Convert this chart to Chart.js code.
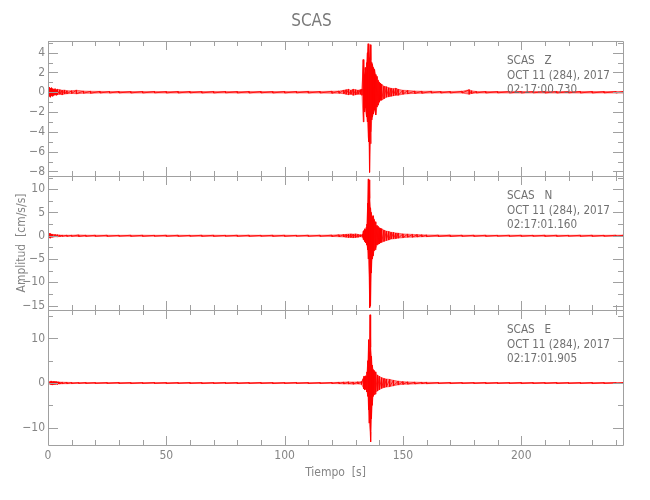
<!DOCTYPE html>
<html>
<head>
<meta charset="utf-8">
<script src="https://cdn.jsdelivr.net/npm/chart.js@4"></script>
<style>
  body { margin: 0; background: #fff; }
</style>
</head>
<body>
<canvas id="sismo" width="650" height="500"></canvas>
<script>
// envelope of each trace (max / min per time step)
const zTime = [
  0, 0.5, 1, 1.5, 2, 2.5, 3, 3.5, 4, 5, 6, 7, 8, 10, 12, 15, 18,
  22, 26, 30, 35, 40, 45, 50, 55, 60, 65, 70, 75, 80, 85, 90, 95, 100, 105, 110, 115, 120,
  123, 125, 126, 127, 128, 129, 130, 131, 132, 132.7,
  133.2, 133.5, 133.8, 134.1, 134.4, 134.7, 135, 135.3, 135.6, 135.9, 136.2, 136.5, 136.8, 137.1, 137.5, 138, 138.5, 139, 139.5, 140, 140.5, 141,
  142, 143, 144, 145, 146, 147, 148, 150, 152, 155, 158, 162, 166, 170, 175, 178, 179,
  181, 185, 190, 195, 200, 205, 210, 215, 220, 225, 230, 235, 240, 243
];
const zHigh = [
  0.3, 0.5, 0.4, 0.45, 0.35, 0.3, 0.35, 0.25, 0.3, 0.25, 0.2, 0.22, 0.15, 0.15, 0.2, 0.12, 0.1,
  0.09, 0.08, 0.08, 0.07, 0.08, 0.08, 0.07, 0.08, 0.08, 0.07, 0.08, 0.08, 0.07, 0.08, 0.08, 0.07, 0.08, 0.08, 0.09, 0.08, 0.1,
  0.12, 0.2, 0.25, 0.3, 0.2, 0.3, 0.25, 0.2, 0.25, 0.3,
  3.3, 2.2, 1.8, 2.5, 2.0, 3.0, 4.0, 4.9, 4.8, 3.5, 4.8, 3.2, 3.0, 2.8, 2.5, 2.3, 1.8, 1.6, 1.2, 1.0, 0.9, 0.8,
  0.6, 0.55, 0.45, 0.4, 0.35, 0.4, 0.3, 0.2, 0.18, 0.12, 0.1, 0.1, 0.08, 0.08, 0.1, 0.25, 0.15,
  0.08, 0.08, 0.07, 0.08, 0.08, 0.07, 0.08, 0.08, 0.07, 0.08, 0.08, 0.07, 0.08, 0.08
];
const zLow = [
  -0.3, -0.4, -0.5, -0.35, -0.4, -0.3, -0.25, -0.3, -0.25, -0.2, -0.25, -0.18, -0.15, -0.12, -0.15, -0.1, -0.1,
  -0.08, -0.08, -0.07, -0.08, -0.08, -0.07, -0.08, -0.08, -0.07, -0.08, -0.08, -0.07, -0.08, -0.08, -0.07, -0.08, -0.08, -0.07, -0.08, -0.08, -0.1,
  -0.1, -0.15, -0.2, -0.25, -0.2, -0.3, -0.25, -0.2, -0.2, -0.3,
  -3.0, -1.8, -2.0, -1.6, -2.2, -2.5, -3.0, -4.5, -5.0, -8.1, -5.2, -4.0, -2.8, -2.5, -2.2, -1.8, -2.3, -1.5, -1.3, -1.0, -0.8, -0.8,
  -0.65, -0.5, -0.45, -0.4, -0.35, -0.3, -0.3, -0.2, -0.15, -0.12, -0.1, -0.08, -0.08, -0.08, -0.08, -0.2, -0.12,
  -0.08, -0.08, -0.07, -0.08, -0.08, -0.07, -0.08, -0.08, -0.07, -0.08, -0.08, -0.07, -0.08, -0.08
];

const nTime = [
  0, 0.5, 1, 1.5, 2, 3, 4, 5, 6, 8, 10, 13, 16, 20,
  25, 30, 35, 40, 45, 50, 55, 60, 65, 70, 75, 80, 85, 90, 95, 100, 105, 110, 115, 120,
  123, 125, 126, 127, 128, 129, 130, 131, 132, 133,
  133.3, 133.6, 133.9, 134.2, 134.5, 134.8, 135.1, 135.4, 135.7, 136, 136.3, 136.6, 137, 137.4, 137.8, 138.2, 138.6, 139, 139.5, 140, 140.5, 141,
  142, 143, 144, 145, 146, 147, 148, 150, 152, 154, 156, 158, 160, 165, 170, 175,
  180, 185, 190, 195, 200, 205, 210, 215, 220, 225, 230, 235, 240, 243
];
const nHigh = [
  0.2, 0.5, 0.45, 0.35, 0.3, 0.25, 0.2, 0.15, 0.12, 0.12, 0.12, 0.18, 0.12, 0.12,
  0.12, 0.1, 0.12, 0.12, 0.1, 0.12, 0.12, 0.1, 0.12, 0.12, 0.1, 0.12, 0.12, 0.1, 0.12, 0.12, 0.1, 0.12, 0.12, 0.15,
  0.2, 0.25, 0.3, 0.35, 0.4, 0.35, 0.4, 0.3, 0.2, 0.3,
  1.0, 1.2, 1.5, 1.3, 1.8, 2.5, 7.0, 12.2, 12.0, 8.0, 6.0, 5.0, 4.0, 4.3, 3.5, 3.0, 2.5, 2.2, 2.0, 1.7, 1.6, 1.5,
  1.2, 1.0, 0.9, 0.75, 0.7, 0.6, 0.55, 0.4, 0.35, 0.3, 0.25, 0.2, 0.18, 0.15, 0.15, 0.12,
  0.12, 0.12, 0.1, 0.12, 0.12, 0.1, 0.12, 0.12, 0.1, 0.12, 0.12, 0.1, 0.12, 0.12
];
const nLow = [
  -0.2, -0.4, -0.5, -0.3, -0.3, -0.2, -0.2, -0.15, -0.12, -0.12, -0.12, -0.15, -0.12, -0.12,
  -0.12, -0.1, -0.12, -0.12, -0.1, -0.12, -0.12, -0.1, -0.12, -0.12, -0.1, -0.12, -0.12, -0.1, -0.12, -0.12, -0.1, -0.12, -0.12, -0.15,
  -0.2, -0.25, -0.3, -0.35, -0.35, -0.4, -0.35, -0.3, -0.2, -0.3,
  -0.8, -1.0, -1.2, -1.5, -1.4, -2.0, -3.0, -5.0, -9.0, -15.4, -15.0, -8.0, -5.0, -4.3, -3.2, -3.0, -2.6, -2.0, -1.8, -1.7, -1.5, -1.4,
  -1.2, -1.0, -0.9, -0.7, -0.65, -0.6, -0.5, -0.4, -0.3, -0.3, -0.25, -0.2, -0.18, -0.15, -0.15, -0.12,
  -0.12, -0.12, -0.1, -0.12, -0.12, -0.1, -0.12, -0.12, -0.1, -0.12, -0.12, -0.1, -0.12, -0.12
];

const eTime = [
  0, 1, 1.5, 2, 2.5, 3, 3.5, 4, 4.5, 5, 6, 8, 10, 13, 16, 20,
  25, 30, 35, 40, 45, 50, 55, 60, 65, 70, 75, 80, 85, 90, 95, 100, 105, 110, 115, 120,
  123, 125, 127, 129, 131, 132.5,
  133.2, 133.5, 133.8, 134.1, 134.5, 134.8, 135.2, 135.5, 135.8, 136.1, 136.4, 136.7, 137, 137.4, 137.8, 138.2, 138.6, 139.2, 140, 141,
  142, 143, 144.4, 146, 148, 150, 152, 155, 158, 160, 165, 170, 175,
  180, 185, 190, 195, 200, 205, 210, 215, 220, 225, 230, 235, 240, 243
];
const eHigh = [
  0.1, 0.35, 0.4, 0.3, 0.35, 0.3, 0.3, 0.25, 0.25, 0.2, 0.18, 0.15, 0.12, 0.1, 0.12, 0.1,
  0.1, 0.12, 0.1, 0.1, 0.12, 0.1, 0.1, 0.12, 0.1, 0.1, 0.12, 0.1, 0.1, 0.12, 0.1, 0.1, 0.12, 0.1, 0.1, 0.12,
  0.15, 0.2, 0.25, 0.2, 0.25, 0.3,
  1.0, 1.5, 1.4, 1.6, 1.5, 2.5, 5.0, 9.7, 7.0, 15.3, 8.0, 6.0, 4.0, 3.0, 2.8, 2.5, 2.0, 1.8, 1.5, 1.2,
  1.0, 0.9, 0.8, 0.6, 0.4, 0.3, 0.25, 0.2, 0.15, 0.15, 0.12, 0.12, 0.1,
  0.1, 0.12, 0.1, 0.1, 0.12, 0.1, 0.1, 0.12, 0.1, 0.1, 0.12, 0.1, 0.1, 0.1
];
const eLow = [
  -0.1, -0.3, -0.35, -0.4, -0.3, -0.3, -0.25, -0.3, -0.2, -0.2, -0.15, -0.15, -0.12, -0.1, -0.1, -0.1,
  -0.1, -0.1, -0.12, -0.1, -0.1, -0.12, -0.1, -0.1, -0.12, -0.1, -0.1, -0.12, -0.1, -0.1, -0.12, -0.1, -0.1, -0.12, -0.1, -0.12,
  -0.15, -0.2, -0.2, -0.25, -0.2, -0.3,
  -1.0, -1.3, -1.5, -1.4, -1.6, -2.0, -3.0, -6.0, -9.0, -11.0, -13.2, -8.0, -5.0, -3.0, -2.6, -2.5, -2.0, -1.8, -1.5, -1.2,
  -1.0, -0.9, -0.8, -0.6, -0.4, -0.3, -0.25, -0.2, -0.15, -0.15, -0.12, -0.12, -0.1,
  -0.1, -0.12, -0.1, -0.1, -0.12, -0.1, -0.1, -0.12, -0.1, -0.1, -0.12, -0.1, -0.1, -0.1
];

// station header printed in each panel
const zInfo = ['SCAS   Z', 'OCT 11 (284), 2017', '02:17:00.730'];
const nInfo = ['SCAS   N', 'OCT 11 (284), 2017', '02:17:01.160'];
const eInfo = ['SCAS   E', 'OCT 11 (284), 2017', '02:17:01.905'];

const FONT = "'DejaVu Sans Condensed', 'Liberation Sans', sans-serif";
const AXIS = '#a0a0a0';
const TEXT = '#858585';

Chart.defaults.font.family = FONT;
Chart.defaults.font.size = 12;
Chart.defaults.color = TEXT;

function edge(times, vals) {
  return times.map((t, i) => ({x: t, y: vals[i]}));
}

// max/min pairs -> one vertical stroke per time step
function zigzag(times, high, low) {
  const pts = [];
  for (let i = 0; i < times.length; i++) {
    pts.push({x: times[i], y: high[i]});
    pts.push({x: times[i], y: low[i]});
  }
  return pts;
}

// band between the two envelope edges + the stroke trace on top
function traceSets(axis, times, high, low) {
  const common = {yAxisID: axis, pointRadius: 0, tension: 0, borderWidth: 0.6, borderColor: 'rgba(255,0,0,0.8)'};
  return [
    Object.assign({label: axis + ' max', data: edge(times, high), fill: '+1', backgroundColor: 'rgba(255,0,0,0.5)'}, common),
    Object.assign({label: axis + ' min', data: edge(times, low), fill: false}, common),
    Object.assign({label: axis, data: zigzag(times, high, low), fill: false}, common, {borderWidth: 0.8, borderColor: '#ff0000'})
  ];
}

function minusSign(v) {
  return v < 0 ? '\u2212' + Math.abs(v) : '' + v;
}

function yAxis(min, max, step, extra) {
  return Object.assign({
    type: 'linear',
    position: 'left',
    stack: 'sismo',
    stackWeight: 1,
    min: min,
    max: max,
    grid: {display: false, drawTicks: false},
    border: {display: false},
    ticks: {stepSize: step, includeBounds: false, autoSkip: false, padding: 3, callback: minusSign},
    afterFit: s => { s.width = 48; }
  }, extra || {});
}

const panels = [
  {id: 'yZ', minor: 1, info: zInfo},
  {id: 'yN', minor: 2.5, info: nInfo},
  {id: 'yE', minor: 5, info: eInfo}
];

const frames = {
  id: 'frames',
  afterDraw(chart) {
    const {ctx, chartArea, scales} = chart;
    const xs = scales.x;
    const L = chartArea.left, R = chartArea.right;
    ctx.save();
    ctx.strokeStyle = AXIS;
    ctx.lineWidth = 1;
    panels.forEach(p => {
      const ys = scales[p.id];
      const T = Math.round(ys.top), B = Math.round(ys.bottom);
      ctx.beginPath();
      ctx.rect(Math.round(L) + 0.5, T + 0.5, Math.round(R) - Math.round(L), B - T);
      // x ticks, pointing inwards on both edges
      for (let v = 0; v <= xs.max; v += 10) {
        const px = Math.round(xs.getPixelForValue(v)) + 0.5;
        const len = v % 50 === 0 ? 9 : 5;
        ctx.moveTo(px, T); ctx.lineTo(px, T + len);
        ctx.moveTo(px, B); ctx.lineTo(px, B - len);
      }
      // y ticks, left and right
      const first = Math.ceil(ys.min / p.minor) * p.minor;
      const major = ys.options.ticks.stepSize;
      for (let v = first; v <= ys.max + 1e-9; v += p.minor) {
        const py = Math.round(ys.getPixelForValue(v)) + 0.5;
        const isMajor = Math.abs(v / major - Math.round(v / major)) < 1e-6;
        const len = isMajor ? 10 : 5;
        ctx.moveTo(L, py); ctx.lineTo(L + len, py);
        ctx.moveTo(R, py); ctx.lineTo(R - len, py);
      }
      ctx.stroke();
      // station header
      ctx.fillStyle = '#707070';
      ctx.font = '11.6px ' + FONT;
      ctx.textAlign = 'left';
      ctx.textBaseline = 'middle';
      p.info.forEach((line, i) => {
        ctx.fillText(line, 507, T + 20 + i * 14.5);
      });
    });
    ctx.restore();
  }
};

new Chart(document.getElementById('sismo'), {
  type: 'line',
  data: {
    datasets: [].concat(
      traceSets('yE', eTime, eHigh, eLow),
      traceSets('yN', nTime, nHigh, nLow),
      traceSets('yZ', zTime, zHigh, zLow)
    )
  },
  options: {
    responsive: false,
    animation: false,
    layout: {padding: {left: 0, right: 27, top: 0, bottom: 0}},
    plugins: {
      legend: {display: false},
      tooltip: {enabled: false},
      title: {
        display: true,
        text: 'SCAS',
        color: '#7a7a7a',
        font: {family: FONT, size: 17, weight: 'normal'},
        padding: {top: 11, bottom: 9.6}
      }
    },
    scales: {
      x: {
        type: 'linear',
        min: 0,
        max: 243,
        grid: {display: false, drawTicks: false},
        border: {display: false},
        ticks: {stepSize: 50, includeBounds: false, padding: 4},
        title: {display: true, text: 'Tiempo  [s]', font: {size: 12}, padding: {top: 0, bottom: 20}},
        afterFit: s => { s.height = 55; }
      },
      yE: yAxis(-13.9, 16.3, 10),
      yN: yAxis(-16, 12.9, 5, {
        title: {display: true, text: 'Amplitud  [cm/s/s]', font: {size: 12}, padding: {top: 15, bottom: 0}}
      }),
      yZ: yAxis(-8.43, 5.18, 2)
    }
  },
  plugins: [frames]
});
</script>
</body>
</html>
